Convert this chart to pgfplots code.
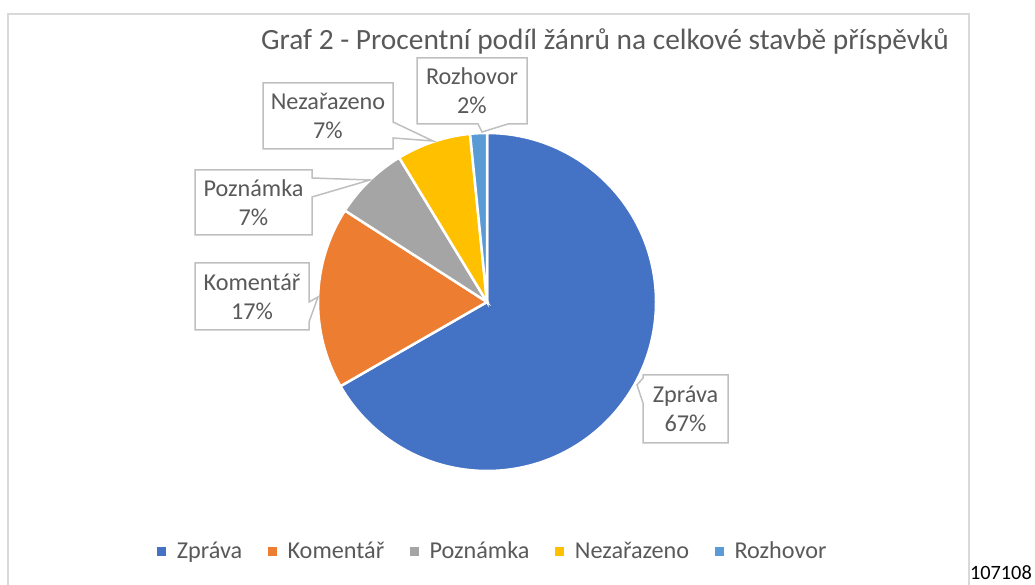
\documentclass[border=0pt]{standalone}
\usepackage{fontspec}
\setmainfont{Carlito}
\usepackage{pgfplots}
\usepackage{pgfplotstable}
\pgfplotsset{compat=1.18}

\definecolor{cZprava}{HTML}{4472C4}
\definecolor{cKoment}{HTML}{ED7D31}
\definecolor{cPozn}{HTML}{A5A5A5}
\definecolor{cNezar}{HTML}{FFC000}
\definecolor{cRozh}{HTML}{5B9BD5}
\definecolor{txt}{HTML}{595959}
\definecolor{frame}{HTML}{D9D9D9}
\definecolor{callout}{HTML}{BFBFBF}

% share of each genre (percent), drawn clockwise from 12 o'clock
\pgfplotstableread{
label value pct color
Zpráva 66.7 67 cZprava
Komentář 17.4 17 cKoment
Poznámka 7.2 7 cPozn
Nezařazeno 7.1 7 cNezar
Rozhovor 1.6 2 cRozh
}\piedata

\newcommand{\lbl}{\fontsize{24.3}{29}\selectfont}

\begin{document}
\begin{tikzpicture}[x=1bp,y=1bp]
\useasboundingbox (0,0) rectangle (1035,585);
\begin{axis}[
    at={(0,0)}, anchor=south west,
    scale only axis, width=1035bp, height=585bp,
    xmin=0, xmax=1035, ymin=0, ymax=585,
    hide axis, clip=false,
    legend image code/.code={\fill[#1] (0bp,-4bp) rectangle (8bp,4bp);},
    legend columns=-1,
    legend style={draw=none, fill=none, at={(0.4763,0.0581)}, anchor=center,
        font=\lbl\color{txt},
        /tikz/every odd column/.append style={column sep=9bp},
        /tikz/every even column/.append style={column sep=24bp}},
]
% chart frame
\draw[frame, line width=1.5bp] (axis cs:8,-5) -- (axis cs:8,571) -- (axis cs:969,571) -- (axis cs:969,-5);

% pie slices
\xdef\startangle{90}
\pgfplotsinvokeforeach{0,...,4}{
  \pgfplotstablegetelem{#1}{value}\of\piedata \let\v\pgfplotsretval
  \pgfplotstablegetelem{#1}{color}\of\piedata \let\c\pgfplotsretval
  \pgfmathsetmacro\endangle{\startangle-3.6*\v}
  \edef\tmp{\noexpand\fill[\c, draw=white, line width=2.5bp] (axis cs:487,283) -- ++(\startangle:169bp)
     arc[start angle=\startangle, end angle=\endangle, radius=169bp] -- cycle;}
  \tmp
  \xdef\startangle{\endangle}
}

% callouts
\begin{scope}[draw=callout, fill=white, line width=1.5bp]
\filldraw (axis cs:417,527) -- (axis cs:527,527) -- (axis cs:527,461) -- (axis cs:508,461) -- (axis cs:482,453) -- (axis cs:478,461) -- (axis cs:417,461) -- cycle;
\filldraw (axis cs:263,502) -- (axis cs:393,502) -- (axis cs:393,463) -- (axis cs:433,444) -- (axis cs:393,447) -- (axis cs:393,436) -- (axis cs:263,436) -- cycle;
\filldraw (axis cs:195,415) -- (axis cs:312,415) -- (axis cs:312,407) -- (axis cs:370,405) -- (axis cs:312,388) -- (axis cs:312,350) -- (axis cs:195,350) -- cycle;
\filldraw (axis cs:195,322) -- (axis cs:309,322) -- (axis cs:309,283) -- (axis cs:318,288) -- (axis cs:309,263) -- (axis cs:309,255) -- (axis cs:195,255) -- cycle;
\filldraw (axis cs:643,210) -- (axis cs:728,210) -- (axis cs:728,142) -- (axis cs:643,142) -- (axis cs:643,182) -- (axis cs:637,200) -- (axis cs:643,207) -- cycle;
\end{scope}
\begin{scope}[every node/.style={text=txt, font=\lbl, align=center, inner sep=0pt}]
\node at (axis cs:472,494) {Rozhovor\\2\%};
\node at (axis cs:328,469) {Nezařazeno\\7\%};
\node at (axis cs:253.5,382.5) {Poznámka\\7\%};
\node at (axis cs:252,288.5) {Komentář\\17\%};
\node at (axis cs:685.5,176) {Zpráva\\67\%};
\end{scope}

% title and stray cell value
\node[anchor=base, text=txt, font=\fontsize{29.5}{35}\selectfont, inner sep=0pt] at (axis cs:605,535)
  {Graf 2 - Procentní podíl žánrů na celkové stavbě příspěvků};
\node[anchor=base east, font=\fontsize{20.4}{24}\selectfont, inner sep=0pt] at (axis cs:1032,5) {107108};

\addlegendimage{cZprava}\addlegendentry{Zpráva}
\addlegendimage{cKoment}\addlegendentry{Komentář}
\addlegendimage{cPozn}\addlegendentry{Poznámka}
\addlegendimage{cNezar}\addlegendentry{Nezařazeno}
\addlegendimage{cRozh}\addlegendentry{Rozhovor}
\end{axis}
\end{tikzpicture}
\end{document}
